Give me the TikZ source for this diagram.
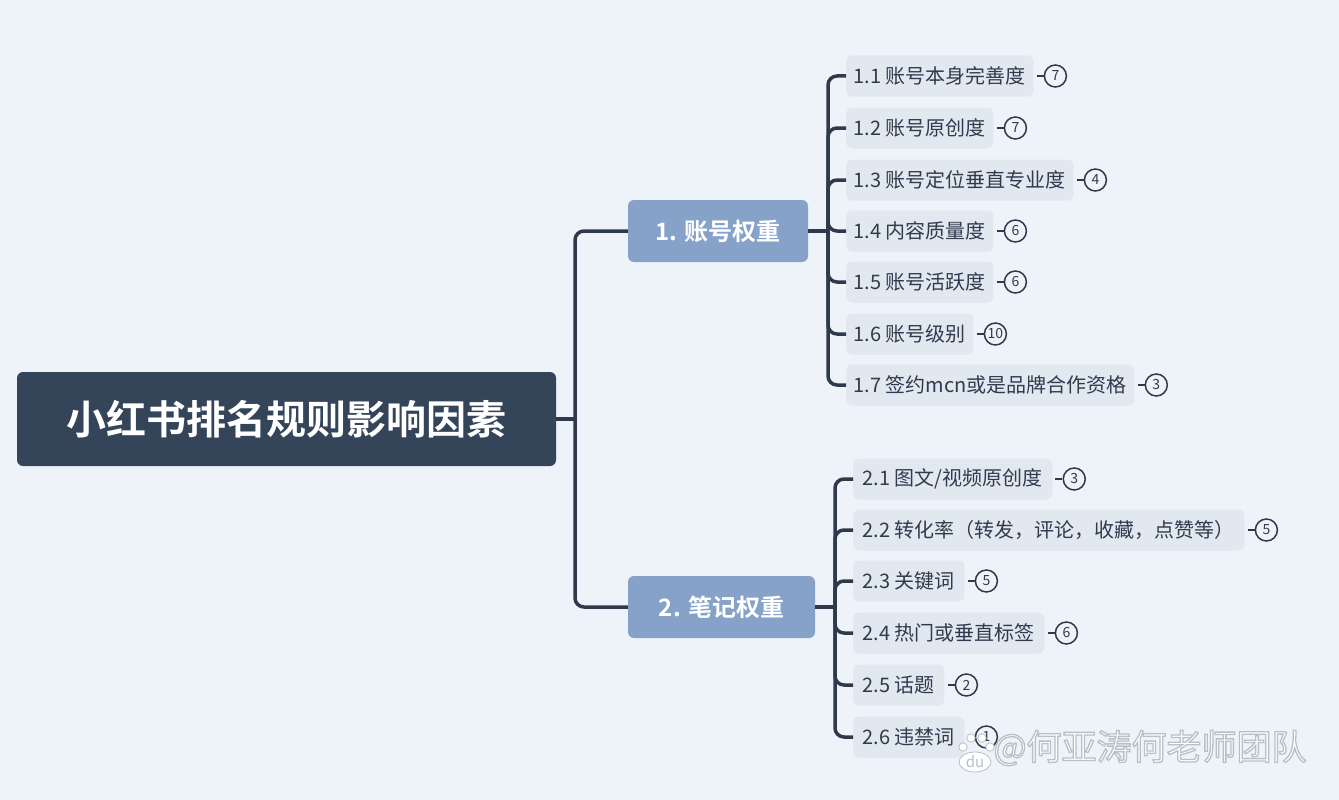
\documentclass[tikz,border=0pt]{standalone}
\usepackage{fontspec}
\setmainfont{Noto Sans CJK SC}
\newfontfamily\cjkb{Noto Sans CJK SC Bold}
\usetikzlibrary{positioning,calc}
\definecolor{bgc}{HTML}{EEF3FA}
\definecolor{rootc}{HTML}{344459}
\definecolor{branchc}{HTML}{86A2C8}
\definecolor{leafc}{HTML}{E2E8EF}
\definecolor{linec}{HTML}{2E3A4C}
\definecolor{textc}{HTML}{2F3B4E}
\definecolor{wmc}{HTML}{B9BFC6}
\tikzset{
  rootbox/.style={fill=rootc, rounded corners=6pt, text=white, inner sep=0pt,
    font=\cjkb\fontsize{40}{48}\selectfont},
  branchbox/.style={fill=branchc, rounded corners=6pt, text=white, inner sep=0pt,
    font=\cjkb\fontsize{24}{28}\selectfont},
  leafbox/.style={fill=leafc, rounded corners=6pt, text=textc, anchor=west,
    minimum height=41pt, inner xsep=7.5pt, inner ysep=0pt,
    font=\fontsize{20}{24}\selectfont},
  leafboxb/.style={leafbox, inner xsep=9.5pt},
  numc/.style={circle, draw=linec, line width=1.5pt, minimum size=22pt, inner sep=0pt,
    text=textc, font=\fontsize{14}{14}\selectfont},
  numline/.style={draw=linec, line width=2pt, shorten <=3pt},
  trunk/.style={draw=linec, line width=3.5pt, rounded corners=9pt},
  wmark/.style={inner sep=0pt, font=\fontsize{35}{40}\selectfont},
}
\newcommand{\outlined}[1]{\color{white}\special{pdf:code 2 Tr 1.3 w 0.725 0.749 0.776 RG}#1\special{pdf:code 0 Tr}}
\begin{document}
\begin{tikzpicture}[x=1pt,y=-1pt]
\fill[bgc] (0,0) rectangle (1339,800);
\useasboundingbox (0,0) rectangle (1339,800);

% root and branches
\node[rootbox, minimum width=539pt, minimum height=94pt] (root) at (286.5,419) {小红书排名规则影响因素};
\node[branchbox, minimum width=180pt, minimum height=62pt] (b1) at (718,231) {1. 账号权重};
\node[branchbox, minimum width=187pt, minimum height=62pt] (b2) at (721.5,607) {2. 笔记权重};

\coordinate (t0) at (575,419);
\draw[trunk] (root.east) -- (t0);
\draw[trunk] (t0) |- (b1.west);
\draw[trunk] (t0) |- (b2.west);

% group 1 leaves
\node[leafbox] (l11) at (846,76)  {1.1 账号本身完善度};
\node[leafbox] (l12) at (846,128) {1.2 账号原创度};
\node[leafbox] (l13) at (846,180) {1.3 账号定位垂直专业度};
\node[leafbox] (l14) at (846,231) {1.4 内容质量度};
\node[leafbox] (l15) at (846,282) {1.5 账号活跃度};
\node[leafbox] (l16) at (846,334) {1.6 账号级别};
\node[leafbox] (l17) at (846,385) {1.7 签约mcn或是品牌合作资格};

\coordinate (t1) at (828,231);
\draw[trunk] (b1.east) -- (t1);
\foreach \n in {11,12,13,14,15,16,17}
  \draw[trunk] (t1) |- (l\n.west);

% group 2 leaves
\node[leafboxb] (l21) at (853,479) {2.1 图文/视频原创度};
\node[leafboxb] (l22) at (853,530) {2.2 转化率（转发，评论，收藏，点赞等）};
\node[leafboxb] (l23) at (853,581) {2.3 关键词};
\node[leafboxb] (l24) at (853,633) {2.4 热门或垂直标签};
\node[leafboxb] (l25) at (853,685) {2.5 话题};
\node[leafboxb] (l26) at (853,737) {2.6 违禁词};

\coordinate (t2) at (835,607);
\draw[trunk] (b2.east) -- (t2);
\foreach \n in {21,22,23,24,25,26}
  \draw[trunk] (t2) |- (l\n.west);

% numbers
\foreach \n/\v in {11/7,12/7,13/4,14/6,15/6,16/10,17/3,21/3,22/5,23/5,24/6,25/2,26/1}{
  \node[numc, right=10pt of l\n] (c\n) {\v};
  \draw[numline] (l\n) -- (c\n);
}

% watermark
\node[wmark] (wm) at (1150,748) {\outlined{@何亚涛何老师团队}};
\begin{scope}[draw=wmc, fill=white, line width=0.8pt]
  \filldraw (963,747) circle (4.2);
  \filldraw (971,738) circle (4.2);
  \filldraw (982,738) circle (4.2);
  \filldraw (990,747) circle (4.2);
  \filldraw (975,762) ellipse (16 and 10);
\end{scope}
\node[text=wmc, font=\fontsize{15}{15}\selectfont, inner sep=0pt] (du) at (975,762) {du};
\end{tikzpicture}
\end{document}
